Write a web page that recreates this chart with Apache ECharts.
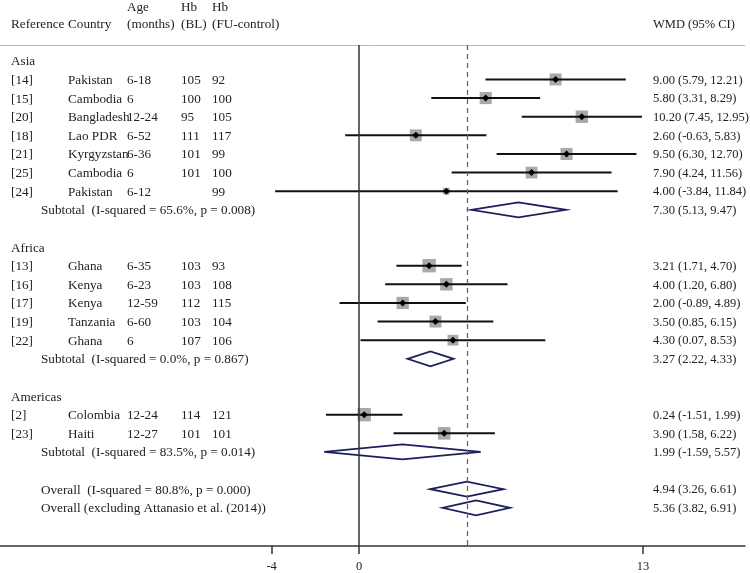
<!DOCTYPE html>
<html><head><meta charset="utf-8">
<script src="https://cdn.jsdelivr.net/npm/echarts@6/dist/echarts.min.js"></script>
<style>html,body{margin:0;padding:0;background:#fff}#c{width:750px;height:573px}</style>
</head><body><div id="c"></div>
<script>
// ---------- data ----------
const groups = ['Asia', 'Africa', 'Americas'];
const studyGroup = [0, 0, 0, 0, 0, 0, 0, 1, 1, 1, 1, 1, 2, 2];
const refs = ['[14]', '[15]', '[20]', '[18]', '[21]', '[25]', '[24]', '[13]', '[16]', '[17]', '[19]', '[22]', '[2]', '[23]'];
const countries = ['Pakistan', 'Cambodia', 'Bangladesh', 'Lao PDR', 'Kyrgyzstan', 'Cambodia', 'Pakistan', 'Ghana', 'Kenya', 'Kenya', 'Tanzania', 'Ghana', 'Colombia', 'Haiti'];
const ages = ['6-18', '6', '12-24', '6-52', '6-36', '6', '6-12', '6-35', '6-23', '12-59', '6-60', '6', '12-24', '12-27'];
const hbBL = ['105', '100', '95', '111', '101', '101', '', '103', '103', '112', '103', '107', '114', '101'];
const hbFU = ['92', '100', '105', '117', '99', '100', '99', '93', '108', '115', '104', '106', '121', '101'];
const wmd = [9.00, 5.80, 10.20, 2.60, 9.50, 7.90, 4.00, 3.21, 4.00, 2.00, 3.50, 4.30, 0.24, 3.90];
const ciLow = [5.79, 3.31, 7.45, -0.63, 6.30, 4.24, -3.84, 1.71, 1.20, -0.89, 0.85, 0.07, -1.51, 1.58];
const ciHigh = [12.21, 8.29, 12.95, 5.83, 12.70, 11.56, 11.84, 4.70, 6.80, 4.89, 6.15, 8.53, 1.99, 6.22];
const weights = [7.0, 7.2, 7.6, 7.0, 7.2, 6.8, 2.2, 8.8, 7.6, 7.4, 7.0, 5.8, 8.8, 7.8];
const subLabels = ['Subtotal  (I-squared = 65.6%, p = 0.008)', 'Subtotal  (I-squared = 0.0%, p = 0.867)', 'Subtotal  (I-squared = 83.5%, p = 0.014)'];
const subWmd = [7.30, 3.27, 1.99];
const subLow = [5.13, 2.22, -1.59];
const subHigh = [9.47, 4.33, 5.57];
const overallLabels = ['Overall  (I-squared = 80.8%, p = 0.000)', 'Overall (excluding Attanasio et al. (2014))'];
const overallWmd = [4.94, 5.36];
const overallLow = [3.26, 3.82];
const overallHigh = [6.61, 6.91];
const xTicks = [-4, 0, 13];
const headerTop = ['', '', 'Age', 'Hb', 'Hb', ''];
const headerBottom = ['Reference', 'Country', '(months)', '(BL)', '(FU-control)', 'WMD (95% CI)'];

// ---------- layout ----------
const FONT = '13.2px "Liberation Serif", "DejaVu Serif", serif';
const FONT_R = '12.5px "Liberation Serif", "DejaVu Serif", serif';
const colX = [11, 68, 127, 181, 212, 653];
const subX = 41;
const fmt = (e, l, h) => e.toFixed(2) + ' (' + l.toFixed(2) + ', ' + h.toFixed(2) + ')';

const textRows = [];
const studyData = [];
const diamondData = [];
let r = 0;
groups.forEach((g, gi) => {
  textRows.push({ row: r, cells: [{ x: colX[0], t: g }] });
  r++;
  studyGroup.forEach((sg, i) => {
    if (sg !== gi) return;
    textRows.push({ row: r, cells: [
      { x: colX[0], t: refs[i] }, { x: colX[1], t: countries[i] }, { x: colX[2], t: ages[i] },
      { x: colX[3], t: hbBL[i] }, { x: colX[4], t: hbFU[i] }, { x: colX[5], t: fmt(wmd[i], ciLow[i], ciHigh[i]), r: 1 }
    ] });
    studyData.push([wmd[i], ciLow[i], ciHigh[i], r, weights[i]]);
    r++;
  });
  textRows.push({ row: r, cells: [{ x: subX, t: subLabels[gi] }, { x: colX[5], t: fmt(subWmd[gi], subLow[gi], subHigh[gi]), r: 1 }] });
  diamondData.push([subWmd[gi], subLow[gi], subHigh[gi], r]);
  r += 2;
});
overallLabels.forEach((lab, i) => {
  textRows.push({ row: r, cells: [{ x: subX, t: lab }, { x: colX[5], t: fmt(overallWmd[i], overallLow[i], overallHigh[i]), r: 1 }] });
  diamondData.push([overallWmd[i], overallLow[i], overallHigh[i], r]);
  r++;
});

const PX_PER_UNIT = (643 - 359) / 13;
const xMin = -359 / PX_PER_UNIT;
const xMax = (745 - 359) / PX_PER_UNIT;

const headerGraphics = [];
headerTop.forEach((t, i) => { if (t) headerGraphics.push({ type: 'text', x: colX[i], y: 8, style: { text: t, font: FONT, fill: '#222', verticalAlign: 'middle' } }); });
headerBottom.forEach((t, i) => { headerGraphics.push({ type: 'text', x: colX[i], y: 25, style: { text: t, font: i === 5 ? FONT_R : FONT, fill: '#222', verticalAlign: 'middle' } }); });

const chart = echarts.init(document.getElementById('c'), null, { renderer: 'canvas' });
chart.setOption({
  animation: false,
  backgroundColor: '#fff',
  grid: { left: 0, right: 5, top: 45, bottom: 27 },
  xAxis: {
    type: 'value', min: xMin, max: xMax,
    splitLine: { show: false },
    axisLine: { show: true, onZero: false, lineStyle: { color: '#333', width: 1.5 } },
    axisTick: { show: true, length: 8, inside: false, customValues: xTicks, lineStyle: { color: '#333', width: 1.5 } },
    axisLabel: { customValues: xTicks, margin: 14, fontFamily: '"Liberation Serif", serif', fontSize: 12.5, color: '#222' }
  },
  yAxis: { type: 'value', inverse: true, min: -0.85, max: 26.05, show: false },
  graphic: headerGraphics,
  series: [
    {
      type: 'custom', name: 'text', silent: true,
      data: textRows.map((t, i) => [0, t.row]),
      renderItem: (params, api) => {
        const item = textRows[params.dataIndex];
        const y = api.coord([0, item.row])[1];
        return { type: 'group', children: item.cells.map(c => ({ type: 'text', style: { text: c.t, x: c.x, y: y + 1, verticalAlign: 'middle', font: c.r ? FONT_R : FONT, fill: '#222' } })) };
      },
      markLine: {
        silent: true, symbol: 'none', label: { show: false },
        data: [
          { yAxis: -0.85, lineStyle: { color: '#b8b8b8', width: 1, type: 'solid' } },
          { xAxis: 0, lineStyle: { color: '#333', width: 1.5, type: 'solid' } },
          { xAxis: overallWmd[0], lineStyle: { color: '#8e4a52', width: 1.2, type: [5, 4] } }
        ]
      }
    },
    {
      type: 'custom', name: 'studies', silent: true,
      data: studyData,
      renderItem: (params, api) => {
        const p = api.coord([api.value(0), api.value(3)]);
        const pl = api.coord([api.value(1), api.value(3)]);
        const ph = api.coord([api.value(2), api.value(3)]);
        const s = 4.5 * Math.sqrt(api.value(4));
        const d = 3.5;
        return { type: 'group', children: [
          { type: 'rect', shape: { x: p[0] - s / 2, y: p[1] - s / 2, width: s, height: s }, style: { fill: '#a9a9a9' } },
          { type: 'line', shape: { x1: pl[0], y1: p[1], x2: ph[0], y2: p[1] }, style: { stroke: '#111', lineWidth: 2 } },
          { type: 'polygon', shape: { points: [[p[0], p[1] - d], [p[0] + d, p[1]], [p[0], p[1] + d], [p[0] - d, p[1]]] }, style: { fill: '#000' } }
        ] };
      }
    },
    {
      type: 'custom', name: 'diamonds', silent: true,
      data: diamondData,
      renderItem: (params, api) => {
        const p = api.coord([api.value(0), api.value(3)]);
        const pl = api.coord([api.value(1), api.value(3)]);
        const ph = api.coord([api.value(2), api.value(3)]);
        const h = 7.5;
        return { type: 'polygon', shape: { points: [[pl[0], p[1]], [p[0], p[1] - h], [ph[0], p[1]], [p[0], p[1] + h]] }, style: { fill: 'none', stroke: '#1c1f5e', lineWidth: 1.8 } };
      }
    }
  ]
});
</script></body></html>
